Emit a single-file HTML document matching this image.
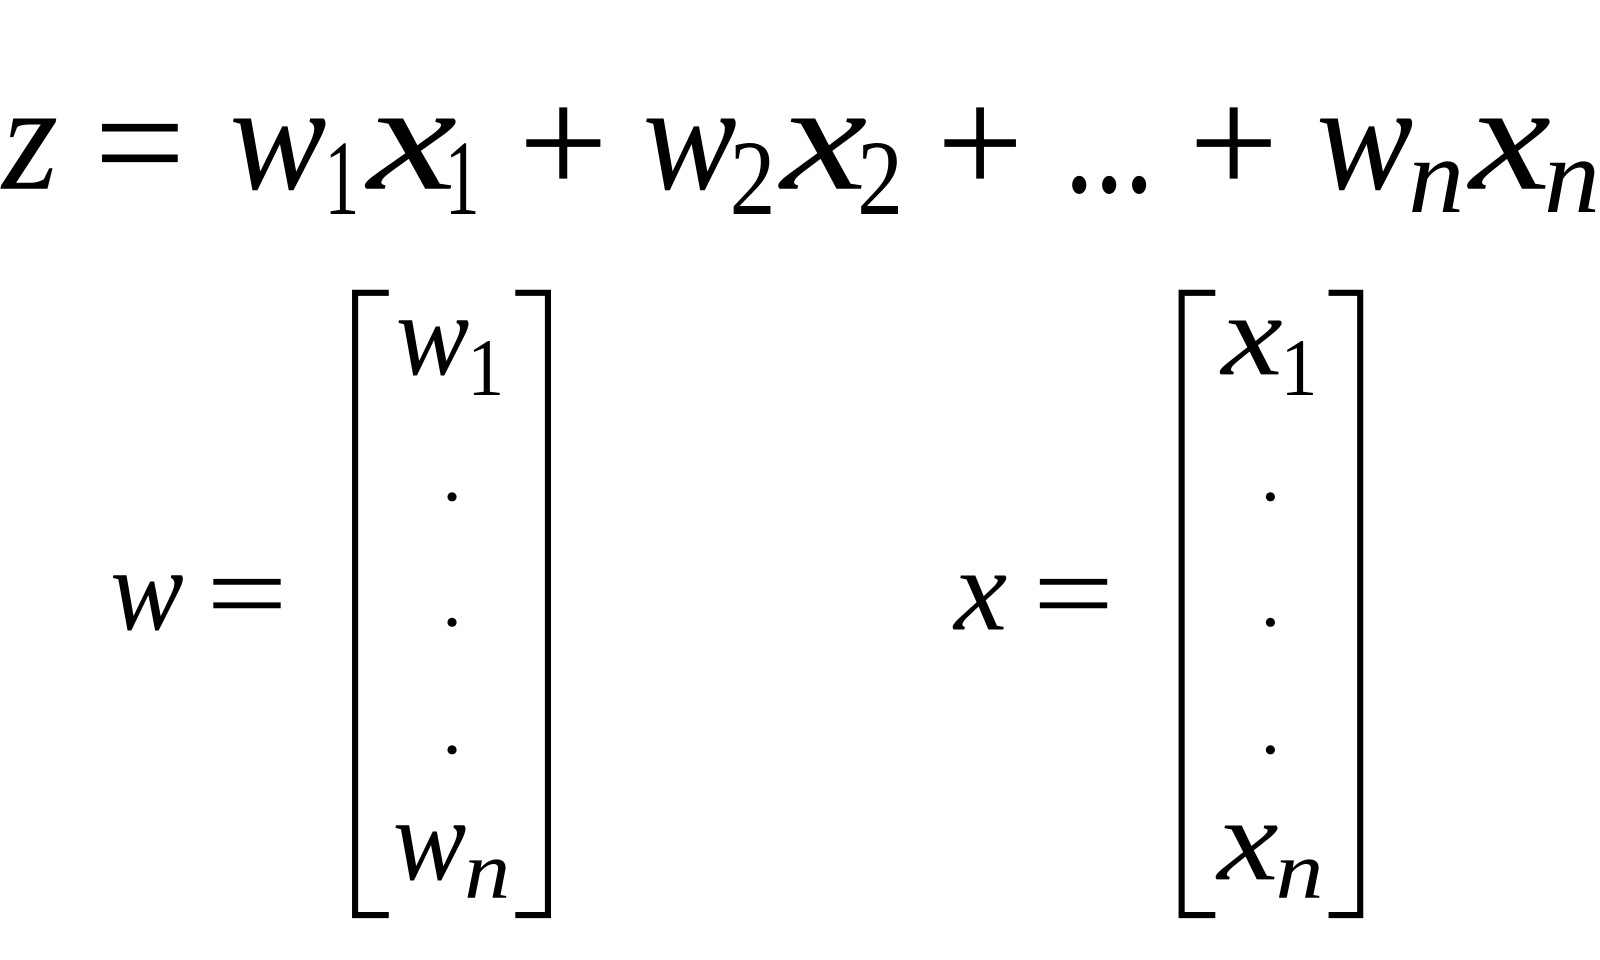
<!DOCTYPE html>
<html><head><meta charset="utf-8"><style>
html,body{margin:0;padding:0;background:#fff;width:1600px;height:960px;overflow:hidden}
svg{display:block}
text{font-family:"Liberation Serif",serif;fill:#000}
.i{font-style:italic}
</style></head><body>
<svg width="1600" height="960" viewBox="0 0 1568 941" preserveAspectRatio="none">
<!-- top equation -->
<g font-size="150">
<text class="i" x="2" y="185" textLength="55" lengthAdjust="spacingAndGlyphs">z</text>
<text x="92" y="190" textLength="90" lengthAdjust="spacingAndGlyphs">=</text>
<text class="i" x="225" y="185" textLength="95" lengthAdjust="spacingAndGlyphs">w</text>
<text x="318" y="210" font-size="105" textLength="34" lengthAdjust="spacingAndGlyphs">1</text>
<text class="i" x="360" y="185" textLength="88" lengthAdjust="spacingAndGlyphs">x</text>
<text x="436" y="210" font-size="105" textLength="34" lengthAdjust="spacingAndGlyphs">1</text>
<text x="508" y="190" textLength="88" lengthAdjust="spacingAndGlyphs">+</text>
<text class="i" x="630" y="185" textLength="92" lengthAdjust="spacingAndGlyphs">w</text>
<text x="715" y="210" font-size="105" textLength="45" lengthAdjust="spacingAndGlyphs">2</text>
<text class="i" x="765" y="185" textLength="85" lengthAdjust="spacingAndGlyphs">x</text>
<text x="840" y="210" font-size="105" textLength="45" lengthAdjust="spacingAndGlyphs">2</text>
<text x="918" y="190" textLength="85" lengthAdjust="spacingAndGlyphs">+</text>
<text x="1043" y="188" textLength="88" lengthAdjust="spacingAndGlyphs">...</text>
<text x="1165" y="190" textLength="88" lengthAdjust="spacingAndGlyphs">+</text>
<text class="i" x="1290" y="185" textLength="95" lengthAdjust="spacingAndGlyphs">w</text>
<text class="i" x="1380" y="208" font-size="105" textLength="55" lengthAdjust="spacingAndGlyphs">n</text>
<text class="i" x="1440" y="185" textLength="80" lengthAdjust="spacingAndGlyphs">x</text>
<text class="i" x="1513" y="208" font-size="105" textLength="55" lengthAdjust="spacingAndGlyphs">n</text>
</g>
<!-- left: w = -->
<g font-size="115">
<text class="i" x="108" y="617" textLength="72" lengthAdjust="spacingAndGlyphs">w</text>
<text x="202" y="620" textLength="80" lengthAdjust="spacingAndGlyphs">=</text>
<text class="i" x="388" y="367" textLength="72" lengthAdjust="spacingAndGlyphs">w</text>
<text x="458" y="387" font-size="80" textLength="36" lengthAdjust="spacingAndGlyphs">1</text>
<text class="i" x="385" y="862" textLength="72" lengthAdjust="spacingAndGlyphs">w</text>
<text class="i" x="455" y="880" font-size="80" textLength="45" lengthAdjust="spacingAndGlyphs">n</text>
<!-- right: x = -->
<text class="i" x="935" y="617" textLength="52" lengthAdjust="spacingAndGlyphs">x</text>
<text x="1012" y="620" textLength="80" lengthAdjust="spacingAndGlyphs">=</text>
<text class="i" x="1197" y="367" textLength="60" lengthAdjust="spacingAndGlyphs">x</text>
<text x="1255" y="387" font-size="80" textLength="36" lengthAdjust="spacingAndGlyphs">1</text>
<text class="i" x="1193" y="862" textLength="60" lengthAdjust="spacingAndGlyphs">x</text>
<text class="i" x="1250" y="880" font-size="80" textLength="47" lengthAdjust="spacingAndGlyphs">n</text>
</g>
<g fill="#000">
<circle cx="443" cy="487" r="4.5"/><circle cx="443" cy="610" r="4.5"/><circle cx="443" cy="735" r="4.5"/>
<circle cx="1245" cy="487" r="4.5"/><circle cx="1245" cy="610" r="4.5"/><circle cx="1245" cy="735" r="4.5"/>
</g>
<g fill="none" stroke="#000" stroke-width="6">
<polyline points="381,287 348,287 348,897 381,897"/>
<polyline points="505,287 537,287 537,897 505,897"/>
<polyline points="1191,287 1158,287 1158,897 1191,897"/>
<polyline points="1302,287 1333,287 1333,897 1302,897"/>
</g>
</svg>
</body></html>
